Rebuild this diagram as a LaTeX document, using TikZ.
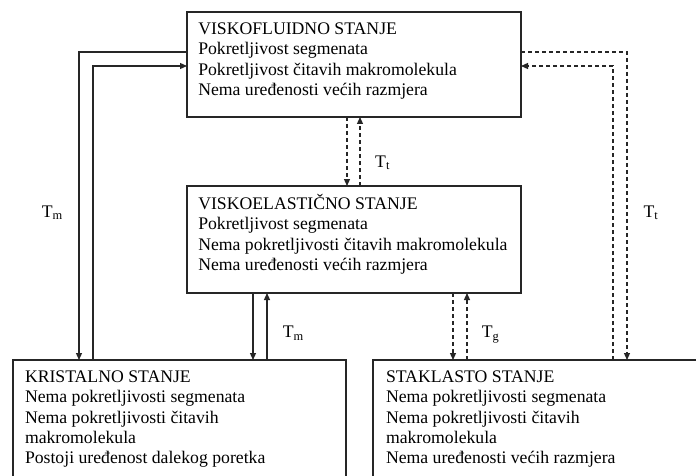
\documentclass[tikz,border=0pt]{standalone}
\usepackage{fontspec}
\setmainfont{Liberation Serif}
\usetikzlibrary{arrows.meta}
\begin{document}
\begin{tikzpicture}[x=1pt,y=-1pt,
  font=\fontsize{17.7}{20.3}\selectfont,
  box/.style={draw=black!85,line width=1.2pt,inner sep=0pt,outer sep=0pt,anchor=north west},
  txt/.style={anchor=base west,inner sep=0pt,outer sep=0pt},
  lbl/.style={anchor=base west,inner sep=0pt},
  sarr/.style={draw=black!85,line width=1.2pt,-{Triangle[length=7pt,width=6pt]}},
  darr/.style={draw=black!85,line width=1.2pt,dash pattern=on 4pt off 3pt,-{Triangle[length=7pt,width=6pt]}}
]
\clip (0,0) rectangle (696,476);
\fill[white] (0,0) rectangle (696,476);

% boxes
\node[box,minimum width=334pt,minimum height=105pt] (top) at (187,12) {};
\node[box,minimum width=334pt,minimum height=107pt] (mid) at (187,186) {};
\node[box,minimum width=333pt,minimum height=150pt] (cryst) at (13,360) {};
\node[box,minimum width=340pt,minimum height=150pt] (glass) at (373,360) {};

% texts
\node[txt] (toptxt) at (198.3,34.5) {\begin{tabular}[t]{@{}l@{}}VISKOFLUIDNO STANJE\\
Pokretljivost segmenata\\
Pokretljivost čitavih makromolekula\\
Nema uređenosti većih razmjera\end{tabular}};
\node[txt] (midtxt) at (198.3,209.5) {\begin{tabular}[t]{@{}l@{}}VISKOELASTIČNO STANJE\\
Pokretljivost segmenata\\
Nema pokretljivosti čitavih makromolekula\\
Nema uređenosti većih razmjera\end{tabular}};
\node[txt] (crysttxt) at (25,382.5) {\begin{tabular}[t]{@{}l@{}}KRISTALNO STANJE\\
Nema pokretljivosti segmenata\\
Nema pokretljivosti čitavih\\
makromolekula\\
Postoji uređenost dalekog poretka\end{tabular}};
\node[txt] (glasstxt) at (386,382.5) {\begin{tabular}[t]{@{}l@{}}STAKLASTO STANJE\\
Nema pokretljivosti segmenata\\
Nema pokretljivosti čitavih\\
makromolekula\\
Nema uređenosti većih razmjera\end{tabular}};

% labels
\node[lbl] (lTmL) at (41.7,217.3) {T\textsubscript{m}};
\node[lbl] (lTtM) at (375,167.3) {T\textsubscript{t}};
\node[lbl] (lTtR) at (643.3,217.3) {T\textsubscript{t}};
\node[lbl] (lTmM) at (282.7,337.7) {T\textsubscript{m}};
\node[lbl] (lTg) at (481.7,337.7) {T\textsubscript{g}};

% helper coordinates
\coordinate (hA) at (0,52);
\coordinate (hB) at (0,66);
\coordinate (vL1) at (79,0);
\coordinate (vL2) at (93,0);
\coordinate (vM1) at (347,0);
\coordinate (vM2) at (360,0);
\coordinate (vC1) at (253,0);
\coordinate (vC2) at (267,0);
\coordinate (vS1) at (453,0);
\coordinate (vS2) at (467,0);
\coordinate (vR1) at (627,0);
\coordinate (vR2) at (613,0);

% connectors
\draw[sarr] (top.west |- hA) -| (cryst.north -| vL1);
\draw[sarr] (cryst.north -| vL2) |- (top.west |- hB);
\draw[darr] (top.south -| vM1) -- (mid.north -| vM1);
\draw[darr] (mid.north -| vM2) -- (top.south -| vM2);
\draw[sarr] (mid.south -| vC1) -- (cryst.north -| vC1);
\draw[sarr] (cryst.north -| vC2) -- (mid.south -| vC2);
\draw[darr] (mid.south -| vS1) -- (glass.north -| vS1);
\draw[darr] (glass.north -| vS2) -- (mid.south -| vS2);
\draw[darr] (top.east |- hA) -| (glass.north -| vR1);
\draw[darr] (glass.north -| vR2) |- (top.east |- hB);
\end{tikzpicture}
\end{document}
